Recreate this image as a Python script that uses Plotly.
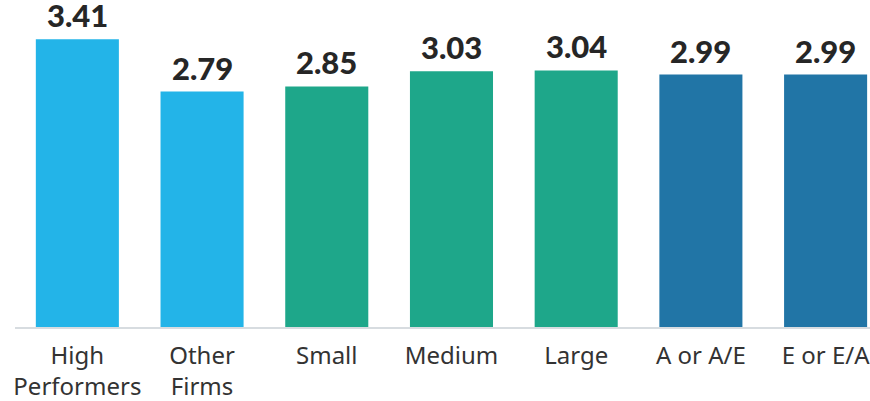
import plotly.graph_objects as go

categories = ["High<br>Performers", "Other<br>Firms", "Small", "Medium", "Large", "A or A/E", "E or E/A"]
values = [3.41, 2.79, 2.85, 3.03, 3.04, 2.99, 2.99]
colors = ["#23B4E8", "#23B4E8", "#1EA78A", "#1EA78A", "#1EA78A", "#2175A6", "#2175A6"]
value_labels = ["3.41", "2.79", "2.85", "3.03", "3.04", "2.99", "2.99"]

fig = go.Figure()
fig.add_trace(go.Bar(
    x=categories, y=values, marker=dict(color=colors, line=dict(width=0)),
    hoverinfo="skip",
))
for c, v, t in zip(categories, values, value_labels):
    fig.add_annotation(
        x=c, y=v, text=t, showarrow=False, yanchor="bottom", yshift=3,
        font=dict(family="Lato", size=31, color="#262626", weight=900),
    )

fig.update_layout(
    width=870, height=401,
    margin=dict(l=15, r=0, t=0, b=74),
    paper_bgcolor="white", plot_bgcolor="white",
    bargap=0.334, showlegend=False,
    xaxis=dict(
        range=[-0.5, 6.356], showline=True, linecolor="#D7DCE0", linewidth=2,
        ticks="outside", ticklen=6, tickcolor="rgba(0,0,0,0)",
        tickfont=dict(family="Noto Sans", size=24, color="#333333"),
        showgrid=False, fixedrange=True, automargin=False,
    ),
    yaxis=dict(range=[0, 3.874], visible=False, showgrid=False, fixedrange=True,
               automargin=False),
)
fig.write_html("out.html", config={"displayModeBar": False},
               post_script="document.body.style.margin='0';")
